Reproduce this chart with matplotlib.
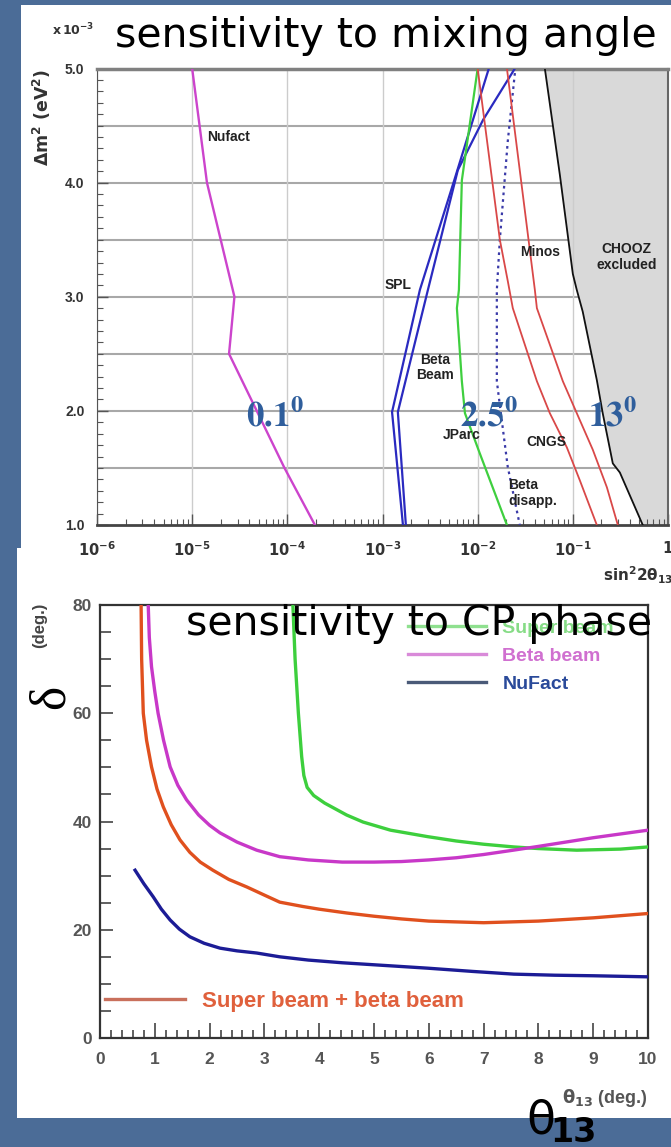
import matplotlib
matplotlib.use("Agg")
import matplotlib.pyplot as plt
from matplotlib.patches import Rectangle
from matplotlib.lines import Line2D
from matplotlib.ticker import FuncFormatter, MultipleLocator
import numpy as np

W, H = 671, 1147

# ---------------- top panel data: sin^2 2theta13 vs dm^2 (x1e-3 eV^2) ----------------
nufact_x = [1.0e-5, 1.43e-5, 2.78e-5, 2.44e-5, 9.33e-5, 1.95e-4]
nufact_y = [5.0, 4.0, 3.0, 2.5, 1.5, 1.0]

spl_a_x = [1.31e-2, 5.77e-3, 2.47e-3, 1.26e-3, 1.64e-3]
spl_a_y = [5.0, 4.04, 3.06, 1.99, 1.0]
spl_b_x = [2.46e-2, 1.14e-2, 6.19e-3, 3.0e-3, 1.45e-3, 1.76e-3]
spl_b_y = [5.0, 4.55, 4.11, 3.06, 1.99, 1.0]

jparc_x = [1.0e-2, 6.82e-3, 6.35e-3, 6.05e-3, 6.82e-3, 7.35e-3, 1.05e-2, 2.03e-2]
jparc_y = [5.0, 4.02, 3.06, 2.9, 2.26, 1.98, 1.63, 1.0]

disapp_x = [2.46e-2, 2.07e-2, 1.71e-2, 1.59e-2, 1.59e-2, 1.79e-2, 2.07e-2, 2.77e-2]
disapp_y = [4.96, 4.36, 3.5, 3.06, 2.26, 1.92, 1.51, 1.0]

minos_x = [1.0e-2, 1.71e-2, 2.07e-2, 2.34e-2, 4.19e-2, 5.73e-2, 8.65e-2, 0.1186, 0.1787]
minos_y = [5.0, 3.5, 3.14, 2.9, 2.26, 1.98, 1.68, 1.39, 1.0]
cngs_x = [2.03e-2, 3.99e-2, 4.19e-2, 7.85e-2, 0.110, 0.162, 0.228, 0.297]
cngs_y = [5.0, 3.06, 2.9, 2.26, 1.98, 1.66, 1.33, 1.0]

chooz_x = [5.08e-2, 7.3e-2, 0.1, 0.110, 0.127, 0.1787, 0.206, 0.263, 0.312, 0.543]
chooz_y = [5.0, 4.07, 3.2, 3.06, 2.87, 2.27, 1.98, 1.54, 1.46, 1.0]

# ---------------- bottom panel data: delta vs theta13 (deg) ----------------
sbbb_t = [0.75, 0.76, 0.79, 0.85, 0.94, 1.04, 1.155, 1.3, 1.46, 1.64, 1.83, 2.06, 2.35, 2.68,
          3.0, 3.28, 3.7, 4.0, 4.5, 5.0, 5.5, 6.0, 7.0, 8.0, 9.0, 10.0]
sbbb_d = [80, 70, 60, 55, 50.1, 46, 42.7, 39.4, 36.6, 34.3, 32.5, 31.0, 29.3, 27.9,
          26.4, 25.1, 24.3, 23.8, 23.1, 22.5, 22.0, 21.6, 21.3, 21.6, 22.2, 23.0]

beta_t = [0.88, 0.9, 0.94, 1.0, 1.06, 1.16, 1.28, 1.42, 1.58, 1.8, 2.0, 2.19, 2.5, 2.86, 3.28,
          3.8, 4.42, 5.0, 5.5, 6.0, 6.5, 7.0, 7.54, 8.0, 8.5, 9.0, 9.5, 10.0]
beta_d = [80, 74, 68.6, 64, 60, 55, 50.1, 46.7, 44, 41.2, 39.3, 37.9, 36.2, 34.7, 33.5,
          32.9, 32.5, 32.5, 32.6, 32.9, 33.3, 33.9, 34.7, 35.4, 36.2, 37.0, 37.7, 38.4]

super_t = [3.52, 3.56, 3.62, 3.68, 3.72, 3.78, 3.9, 4.1, 4.5, 4.8, 5.3, 5.98, 6.5, 7.0, 7.55,
           8.0, 8.7, 9.5, 10.0]
super_d = [80, 70, 60, 52, 48.5, 46.3, 44.8, 43.4, 41.2, 39.9, 38.4, 37.2, 36.4, 35.8, 35.3,
           35.0, 34.7, 34.9, 35.3]

nufact_t = [0.64, 0.8, 0.97, 1.12, 1.28, 1.45, 1.64, 1.9, 2.19, 2.5, 2.86, 3.28, 3.8, 4.42,
            5.2, 5.98, 6.8, 7.55, 8.3, 9.0, 10.0]
nufact_d = [31, 28.5, 26.1, 23.8, 21.8, 20.1, 18.7, 17.5, 16.6, 16.1, 15.7, 15.0, 14.4, 13.9,
            13.4, 12.9, 12.3, 11.8, 11.6, 11.5, 11.3]


def fx(px):
    return px / W


def fy(py):
    return 1 - py / H


fig = plt.figure(figsize=(W / 100, H / 100), dpi=100)
fig.patch.set_facecolor('#4b6c97')

# white slide panels (behind the axes)
fig.patches.append(Rectangle((fx(21), fy(552)), 1, (552 - 5) / H, transform=fig.transFigure,
                             facecolor='white', edgecolor='none', zorder=-2))
fig.patches.append(Rectangle((fx(17), fy(1118)), 1, (1118 - 548) / H, transform=fig.transFigure,
                             facecolor='white', edgecolor='none', zorder=-2))

lab = dict(family='Liberation Sans', fontweight='bold')

# ================= top chart =================
ax1 = fig.add_axes([fx(97), fy(525), (668 - 97) / W, (525 - 68.5) / H])
ax1.set_xscale('log')
ax1.set_xlim(1e-6, 1)
ax1.set_ylim(1, 5)
ax1.set_facecolor('white')

ax1.grid(axis='x', which='major', color='#cccccc', lw=1.0, zorder=0)
ax1.hlines(np.arange(1.5, 5.0, 0.5), 1e-6, 1, colors='#a8a8a8', lw=1.5, zorder=0.5)

ax1.fill_betweenx(chooz_y, chooz_x, 1, color='#d9d9d9', zorder=1)
ax1.plot(chooz_x, chooz_y, color='#111111', lw=1.3, zorder=3)

ax1.plot(nufact_x, nufact_y, color='#cc44cc', lw=1.7, zorder=3)
ax1.plot(spl_a_x, spl_a_y, color='#2a2ac0', lw=1.6, zorder=3)
ax1.plot(spl_b_x, spl_b_y, color='#2a2ac0', lw=1.6, zorder=3)
ax1.plot(jparc_x, jparc_y, color='#3fcf3f', lw=1.6, zorder=3)
ax1.plot(disapp_x, disapp_y, color='#3a3aa8', lw=1.6, ls=(0, (1.2, 1.8)), zorder=3)
ax1.plot(minos_x, minos_y, color='#d94848', lw=1.3, zorder=3)
ax1.plot(cngs_x, cngs_y, color='#d94848', lw=1.3, zorder=3)

ax1.yaxis.set_major_locator(MultipleLocator(1))
ax1.yaxis.set_minor_locator(MultipleLocator(0.1))
ax1.yaxis.set_major_formatter(FuncFormatter(lambda v, p: '%.1f' % v))
ax1.xaxis.set_major_formatter(FuncFormatter(
    lambda v, p: r'$\mathbf{1}$' if v >= 1 else r'$\mathbf{10^{%d}}$' % round(np.log10(v))))
ax1.tick_params(which='both', direction='in', colors='#555555', labelcolor='#333333')
ax1.tick_params(which='major', length=8, width=1.0)
ax1.tick_params(which='minor', length=4, width=0.8)
ax1.tick_params(axis='y', pad=9, labelsize=10)
ax1.tick_params(axis='x', pad=11, labelsize=10.5)
for t in ax1.get_yticklabels():
    t.set_fontweight('bold')
    t.set_family('Liberation Sans')
ax1.spines['top'].set_color('#808080')
ax1.spines['top'].set_linewidth(2.5)
ax1.spines['bottom'].set_color('#444444')
ax1.spines['bottom'].set_linewidth(2.0)
ax1.spines['left'].set_color('#555555')
ax1.spines['right'].set_color('#666666')
ax1.spines['right'].set_linewidth(1.5)

# curve labels
ax1.text(2.44e-5, 4.40, 'Nufact', ha='center', va='center', fontsize=10, color='#222', zorder=4, **lab)
ax1.text(1.45e-3, 3.10, 'SPL', ha='center', va='center', fontsize=10, color='#222', zorder=4, **lab)
ax1.text(3.55e-3, 2.38, 'Beta\nBeam', ha='center', va='center', fontsize=10, color='#222',
         linespacing=1.1, zorder=4, **lab)
ax1.text(6.8e-3, 1.79, 'JParc', ha='center', va='center', fontsize=10, color='#222', zorder=4, **lab)
ax1.text(5.3e-2, 1.73, 'CNGS', ha='center', va='center', fontsize=10, color='#222', zorder=4, **lab)
ax1.text(2.1e-2, 1.28, 'Beta\ndisapp.', ha='left', va='center', fontsize=10, color='#222',
         linespacing=1.1, zorder=4, **lab)
ax1.text(4.5e-2, 3.39, 'Minos', ha='center', va='center', fontsize=10, color='#222', zorder=4, **lab)
ax1.text(0.369, 3.35, 'CHOOZ\nexcluded', ha='center', va='center', fontsize=10, color='#222',
         linespacing=1.2, zorder=4, **lab)

# angle annotations
big = dict(fontsize=25, color='#2f5e9c', ha='center', va='baseline', math_fontfamily='stix', zorder=5)
ax1.text(7.4e-5, 1.86, r'$\mathbf{0.1^0}$', **big)
ax1.text(1.31e-2, 1.86, r'$\mathbf{2.5^0}$', **big)
ax1.text(0.26, 1.86, r'$\mathbf{13^0}$', **big)

fig.text(fx(73), fy(30), r'$\mathbf{x\,10^{-3}}$', fontsize=9, color='#333', ha='center', va='center')
fig.text(fx(42), fy(117), r'$\mathbf{\Delta m^2\ (eV^2)}$', fontsize=12.5, color='#333',
         rotation=90, ha='center', va='center')
fig.text(fx(603), fy(581), r'$\mathbf{sin^22\theta_{13}}$', fontsize=11, color='#333',
         ha='left', va='baseline')
fig.text(fx(115), fy(47), 'sensitivity to mixing angle', fontsize=29.5, color='black',
         family='DejaVu Sans', ha='left', va='baseline')

# ================= bottom chart =================
ax2 = fig.add_axes([fx(100), fy(1038), (648 - 100) / W, (1038 - 605) / H])
ax2.set_xlim(0, 10)
ax2.set_ylim(0, 80)
ax2.plot(super_t, super_d, color='#3dcf3d', lw=2.4, zorder=3)
ax2.plot(beta_t, beta_d, color='#c838c8', lw=2.4, zorder=3)
ax2.plot(sbbb_t, sbbb_d, color='#e0501e', lw=2.4, zorder=3)
ax2.plot(nufact_t, nufact_d, color='#1c1c96', lw=2.4, zorder=3)

ax2.xaxis.set_major_locator(MultipleLocator(1))
ax2.xaxis.set_minor_locator(MultipleLocator(0.2))
ax2.yaxis.set_major_locator(MultipleLocator(20))
ax2.yaxis.set_minor_locator(MultipleLocator(5))
ax2.tick_params(which='both', direction='in', colors='#444444', labelcolor='#555555', width=1.2)
ax2.tick_params(axis='x', which='major', length=11, pad=10, labelsize=12.5)
ax2.tick_params(axis='x', which='minor', length=5.5)
ax2.tick_params(axis='y', which='major', length=9, pad=6, labelsize=12.5)
ax2.tick_params(axis='y', which='minor', length=8)
for t in ax2.get_xticklabels() + ax2.get_yticklabels():
    t.set_fontweight('bold')
    t.set_family('Liberation Sans')
for s in ax2.spines.values():
    s.set_color('#333333')
    s.set_linewidth(1.6)

h1 = [Line2D([], [], color='#8fe08f', lw=2.4),
      Line2D([], [], color='#d98ad9', lw=2.4),
      Line2D([], [], color='#4a5a78', lw=2.4)]
leg1 = ax2.legend(h1, ['Super beam', 'Beta beam', 'NuFact'], loc='upper left',
                  bbox_to_anchor=(fx(408), fy(619)), bbox_transform=fig.transFigure,
                  frameon=False, borderpad=0, borderaxespad=0, handlelength=4.0,
                  handletextpad=0.85, labelspacing=0.55,
                  prop={'family': 'Liberation Sans', 'weight': 'bold', 'size': 14})
for t, c in zip(leg1.get_texts(), ['#86dc86', '#d070d0', '#2a4a9a']):
    t.set_color(c)
ax2.add_artist(leg1)
leg2 = ax2.legend([Line2D([], [], color='#c9705c', lw=2.4)], ['Super beam + beta beam'],
                  loc='center left', bbox_to_anchor=(fx(105), fy(1001)),
                  bbox_transform=fig.transFigure, frameon=False, borderpad=0, borderaxespad=0,
                  handlelength=3.6, handletextpad=0.75,
                  prop={'family': 'Liberation Sans', 'weight': 'bold', 'size': 16})
leg2.get_texts()[0].set_color('#e0603c')

fig.text(fx(186), fy(635), 'sensitivity to CP phase', fontsize=29.5, color='black',
         family='DejaVu Sans', ha='left', va='baseline', zorder=10)

fig.text(fx(40), fy(625), '(deg.)', fontsize=12, color='#444', rotation=90, ha='center',
         va='center', family='Liberation Sans', fontweight='bold')
fig.text(fx(51), fy(697), 'δ', fontsize=37, color='black', rotation=90, ha='center',
         va='center', family='Liberation Serif')

fig.text(fx(648), fy(1103), r'$\mathbf{\theta_{13}}$ (deg.)', fontsize=13, color='#555',
         ha='right', va='baseline', family='Liberation Sans', fontweight='bold')
fig.text(fx(526), fy(1133), 'θ', fontsize=34, color='black', ha='left', va='baseline',
         family='DejaVu Sans', zorder=10)
fig.text(fx(550), fy(1142), '13', fontsize=24, color='black', ha='left', va='baseline',
         family='DejaVu Sans', fontweight='bold', zorder=10)

fig.savefig('out.png', dpi=100, facecolor=fig.get_facecolor())
